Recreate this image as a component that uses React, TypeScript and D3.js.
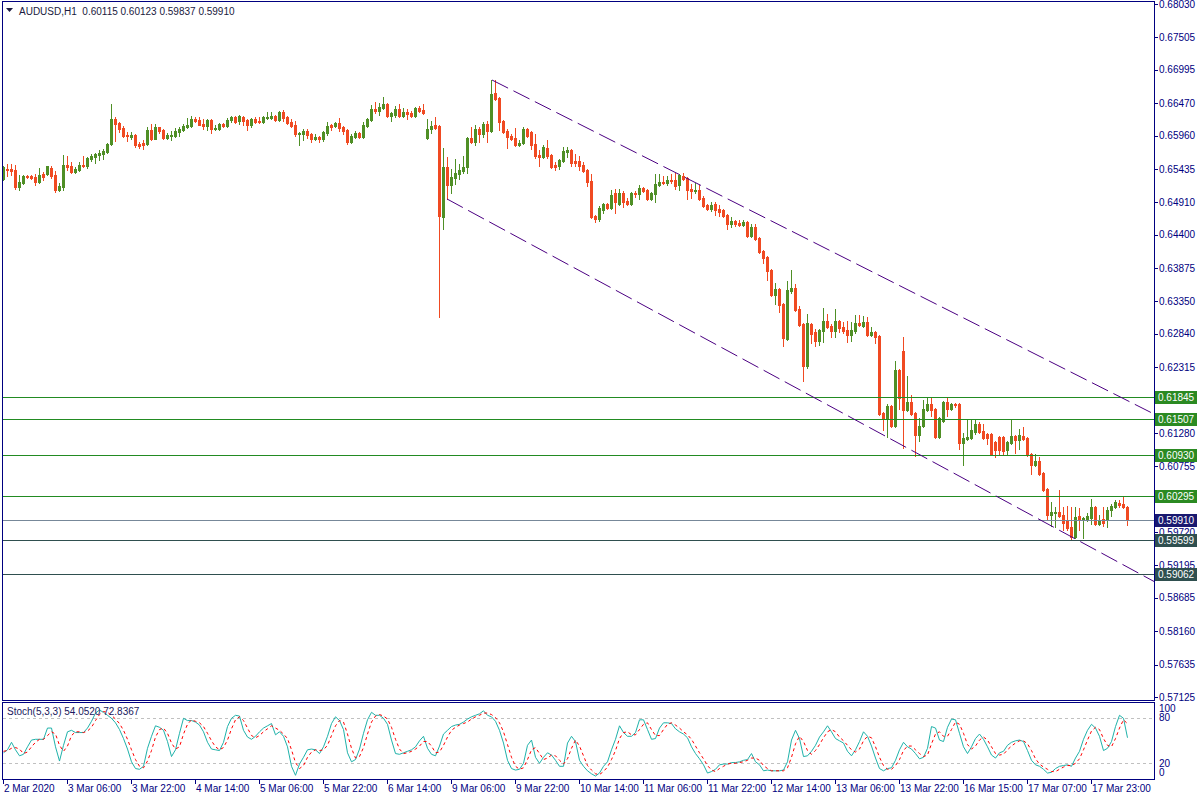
import React from "react";
import * as d3 from "d3";

const symbolTitle = "AUDUSD,H1";
const headerValues = ["0.60115", "0.60123", "0.59837", "0.59910"];
const stochTitle = "Stoch(5,3,3) 54.0520 72.8367";

const opens = [
  0.6528, 0.6543, 0.6543, 0.6542, 0.6515, 0.6521, 0.6532, 0.6532, 0.6531, 0.6523,
  0.6536, 0.6536, 0.6545, 0.6534, 0.6510, 0.6515, 0.6550, 0.6548, 0.6539, 0.6542,
  0.6550, 0.6548, 0.6559, 0.6562, 0.6565, 0.6567, 0.6570, 0.6583, 0.6622, 0.6616,
  0.6608, 0.6597, 0.6594, 0.6597, 0.6583, 0.6584, 0.6583, 0.6605, 0.6591, 0.6609,
  0.6605, 0.6592, 0.6595, 0.6595, 0.6602, 0.6605, 0.6609, 0.6611, 0.6622, 0.6620,
  0.6614, 0.6611, 0.6620, 0.6606, 0.6606, 0.6614, 0.6611, 0.6620, 0.6625, 0.6619,
  0.6625, 0.6620, 0.6613, 0.6622, 0.6619, 0.6617, 0.6624, 0.6624, 0.6627, 0.6620,
  0.6633, 0.6625, 0.6617, 0.6613, 0.6598, 0.6598, 0.6603, 0.6598, 0.6591, 0.6594,
  0.6591, 0.6600, 0.6613, 0.6611, 0.6616, 0.6609, 0.6605, 0.6586, 0.6594, 0.6600,
  0.6594, 0.6611, 0.6620, 0.6638, 0.6635, 0.6639, 0.6646, 0.6627, 0.6628, 0.6638,
  0.6627, 0.6633, 0.6631, 0.6627, 0.6639, 0.6636, 0.6592, 0.6606, 0.6613, 0.6611,
  0.6468, 0.6547, 0.6518, 0.6529, 0.6536, 0.6540, 0.6547, 0.6592, 0.6586, 0.6606,
  0.6598, 0.6614, 0.6603, 0.6663, 0.6655, 0.6619, 0.6603, 0.6595, 0.6592, 0.6581,
  0.6584, 0.6606, 0.6602, 0.6583, 0.6565, 0.6562, 0.6576, 0.6565, 0.6550, 0.6548,
  0.6556, 0.6570, 0.6573, 0.6556, 0.6556, 0.6550, 0.6542, 0.6524, 0.6469, 0.6465,
  0.6479, 0.6488, 0.6482, 0.6506, 0.6488, 0.6506, 0.6493, 0.6488, 0.6506, 0.6504,
  0.6513, 0.6510, 0.6496, 0.6504, 0.6518, 0.6523, 0.6521, 0.6526, 0.6526, 0.6518,
  0.6532, 0.6529, 0.6512, 0.6509, 0.6510, 0.6498, 0.6487, 0.6480, 0.6488, 0.6480,
  0.6479, 0.6471, 0.6457, 0.6462, 0.6458, 0.6455, 0.6460, 0.6438, 0.6452, 0.6435,
  0.6414, 0.6405, 0.6384, 0.6345, 0.6355, 0.6331, 0.6276, 0.6351, 0.6356, 0.6323,
  0.6299, 0.6233, 0.6299, 0.6287, 0.6273, 0.6288, 0.6304, 0.6296, 0.6288, 0.6304,
  0.6295, 0.6290, 0.6282, 0.6288, 0.6301, 0.6296, 0.6303, 0.6282, 0.6287, 0.6281,
  0.6159, 0.6150, 0.6170, 0.6139, 0.6227, 0.6257, 0.6164, 0.6177, 0.6159, 0.6125,
  0.6139, 0.6164, 0.6174, 0.6166, 0.6122, 0.6147, 0.6177, 0.6166, 0.6174, 0.6174,
  0.6112, 0.6118, 0.6120, 0.6129, 0.6142, 0.6131, 0.6126, 0.6126, 0.6114, 0.6122,
  0.6122, 0.6101, 0.6112, 0.6123, 0.6117, 0.6123, 0.6120, 0.6095, 0.6078, 0.6084,
  0.6065, 0.6040, 0.5999, 0.6002, 0.6004, 0.5999, 0.5991, 0.5980, 0.5964, 0.5997,
  0.5993, 0.5991, 0.5994, 0.6011, 0.5985, 0.5993, 0.5993, 0.6007, 0.6011, 0.6018,
  0.6016, 0.60115,
];

const highs = [
  0.6548, 0.6551, 0.6551, 0.6550, 0.6534, 0.6534, 0.6534, 0.6534, 0.6536, 0.6545,
  0.6539, 0.6548, 0.6548, 0.6540, 0.6521, 0.6565, 0.6564, 0.6554, 0.6547, 0.6554,
  0.6564, 0.6562, 0.6567, 0.6569, 0.6573, 0.6575, 0.6584, 0.6646, 0.6625, 0.6617,
  0.6611, 0.6602, 0.6602, 0.6598, 0.6586, 0.6589, 0.6609, 0.6614, 0.6614, 0.6610,
  0.6606, 0.6600, 0.6603, 0.6608, 0.6609, 0.6614, 0.6624, 0.6627, 0.6625, 0.6625,
  0.6622, 0.6622, 0.6622, 0.6613, 0.6616, 0.6616, 0.6624, 0.6627, 0.6627, 0.6628,
  0.6627, 0.6622, 0.6624, 0.6625, 0.6625, 0.6627, 0.6633, 0.6633, 0.6628, 0.6635,
  0.6636, 0.6627, 0.6622, 0.6619, 0.6602, 0.6606, 0.6606, 0.6600, 0.6598, 0.6595,
  0.6603, 0.6617, 0.6614, 0.6617, 0.6624, 0.6611, 0.6606, 0.6598, 0.6603, 0.6602,
  0.6617, 0.6624, 0.6644, 0.6649, 0.6647, 0.6657, 0.6647, 0.6633, 0.6643, 0.6646,
  0.6639, 0.6638, 0.6635, 0.6641, 0.6643, 0.6646, 0.6622, 0.6619, 0.6625, 0.6613,
  0.6576, 0.6562, 0.6543, 0.6559, 0.6551, 0.6564, 0.6594, 0.6609, 0.6613, 0.6609,
  0.6617, 0.6619, 0.6683, 0.6683, 0.6657, 0.6620, 0.6606, 0.6598, 0.6608, 0.6589,
  0.6609, 0.6608, 0.6603, 0.6598, 0.6573, 0.6581, 0.6589, 0.6567, 0.6554, 0.6559,
  0.6578, 0.6578, 0.6575, 0.6567, 0.6564, 0.6554, 0.6543, 0.6536, 0.6471, 0.6485,
  0.6490, 0.6490, 0.6510, 0.6512, 0.6512, 0.6509, 0.6498, 0.6507, 0.6509, 0.6518,
  0.6515, 0.6512, 0.6507, 0.6536, 0.6536, 0.6532, 0.6532, 0.6536, 0.6537, 0.6536,
  0.6537, 0.6531, 0.6520, 0.6521, 0.6518, 0.6501, 0.6488, 0.6491, 0.6491, 0.6487,
  0.6480, 0.6473, 0.6468, 0.6463, 0.6463, 0.6463, 0.6462, 0.6457, 0.6457, 0.6436,
  0.6416, 0.6406, 0.6386, 0.6364, 0.6356, 0.6333, 0.6367, 0.6384, 0.6362, 0.6328,
  0.6301, 0.6315, 0.6301, 0.6292, 0.6292, 0.6325, 0.6315, 0.6299, 0.6323, 0.6306,
  0.6303, 0.6304, 0.6303, 0.6314, 0.6314, 0.6312, 0.6310, 0.6295, 0.6288, 0.6282,
  0.6161, 0.6174, 0.6172, 0.6241, 0.6229, 0.6279, 0.6218, 0.6188, 0.6161, 0.6151,
  0.6180, 0.6183, 0.6183, 0.6167, 0.6153, 0.6178, 0.6183, 0.6175, 0.6175, 0.6175,
  0.6128, 0.6148, 0.6150, 0.6150, 0.6145, 0.6142, 0.6128, 0.6128, 0.6115, 0.6123,
  0.6123, 0.6115, 0.6148, 0.6125, 0.6134, 0.6137, 0.6122, 0.6096, 0.6095, 0.6090,
  0.6067, 0.6041, 0.6019, 0.6011, 0.6038, 0.6011, 0.6013, 0.6011, 0.6011, 0.6010,
  0.5996, 0.6002, 0.6024, 0.6013, 0.5999, 0.6011, 0.6011, 0.6016, 0.6022, 0.6022,
  0.6029, 0.60123,
];

const lows = [
  0.6526, 0.6532, 0.6534, 0.6512, 0.6510, 0.6520, 0.6529, 0.6528, 0.6518, 0.6521,
  0.6526, 0.6534, 0.6529, 0.6507, 0.6509, 0.6510, 0.6542, 0.6537, 0.6537, 0.6540,
  0.6547, 0.6545, 0.6556, 0.6553, 0.6558, 0.6559, 0.6569, 0.6581, 0.6587, 0.6602,
  0.6594, 0.6587, 0.6591, 0.6578, 0.6576, 0.6575, 0.6581, 0.6589, 0.6590, 0.6600,
  0.6591, 0.6591, 0.6589, 0.6594, 0.6595, 0.6603, 0.6608, 0.6609, 0.6617, 0.6612,
  0.6606, 0.6605, 0.6600, 0.6605, 0.6605, 0.6609, 0.6610, 0.6617, 0.6616, 0.6614,
  0.6613, 0.6605, 0.6609, 0.6616, 0.6616, 0.6616, 0.6622, 0.6622, 0.6619, 0.6619,
  0.6619, 0.6614, 0.6609, 0.6595, 0.6581, 0.6589, 0.6592, 0.6586, 0.6589, 0.6586,
  0.6587, 0.6597, 0.6605, 0.6609, 0.6603, 0.6598, 0.6583, 0.6584, 0.6592, 0.6592,
  0.6592, 0.6609, 0.6619, 0.6631, 0.6628, 0.6638, 0.6625, 0.6619, 0.6625, 0.6625,
  0.6625, 0.6622, 0.6625, 0.6625, 0.6633, 0.6630, 0.6591, 0.6600, 0.6606, 0.6310,
  0.6449, 0.6496, 0.6506, 0.6520, 0.6528, 0.6537, 0.6537, 0.6584, 0.6581, 0.6586,
  0.6594, 0.6586, 0.6602, 0.6652, 0.6605, 0.6600, 0.6576, 0.6589, 0.6580, 0.6580,
  0.6583, 0.6594, 0.6575, 0.6561, 0.6548, 0.6561, 0.6561, 0.6545, 0.6542, 0.6543,
  0.6554, 0.6562, 0.6548, 0.6548, 0.6542, 0.6539, 0.6517, 0.6466, 0.6460, 0.6462,
  0.6474, 0.6480, 0.6480, 0.6474, 0.6487, 0.6484, 0.6487, 0.6487, 0.6499, 0.6496,
  0.6507, 0.6495, 0.6495, 0.6491, 0.6517, 0.6520, 0.6518, 0.6521, 0.6512, 0.6510,
  0.6526, 0.6496, 0.6498, 0.6506, 0.6495, 0.6484, 0.6479, 0.6477, 0.6471, 0.6469,
  0.6468, 0.6449, 0.6452, 0.6454, 0.6454, 0.6454, 0.6436, 0.6436, 0.6432, 0.6411,
  0.6395, 0.6369, 0.6343, 0.6331, 0.6318, 0.6265, 0.6274, 0.6348, 0.6320, 0.6296,
  0.6210, 0.6230, 0.6270, 0.6265, 0.6266, 0.6271, 0.6293, 0.6279, 0.6279, 0.6287,
  0.6285, 0.6271, 0.6273, 0.6285, 0.6296, 0.6295, 0.6281, 0.6281, 0.6270, 0.6156,
  0.6133, 0.6122, 0.6137, 0.6137, 0.6166, 0.6104, 0.6162, 0.6156, 0.6092, 0.6115,
  0.6137, 0.6162, 0.6155, 0.6120, 0.6120, 0.6145, 0.6155, 0.6164, 0.6169, 0.6103,
  0.6078, 0.6117, 0.6118, 0.6126, 0.6128, 0.6118, 0.6110, 0.6093, 0.6090, 0.6095,
  0.6095, 0.6093, 0.6110, 0.6096, 0.6103, 0.6117, 0.6092, 0.6064, 0.6076, 0.6062,
  0.6037, 0.5991, 0.5982, 0.5980, 0.5996, 0.5975, 0.5975, 0.5960, 0.5963, 0.5975,
  0.5963, 0.5989, 0.5985, 0.5983, 0.5983, 0.5982, 0.5980, 0.5997, 0.6010, 0.6011,
  0.6010, 0.59837,
];

const closes = [
  0.6546, 0.6542, 0.6540, 0.6515, 0.6523, 0.6532, 0.6531, 0.6529, 0.6523, 0.6534,
  0.6531, 0.6548, 0.6532, 0.6510, 0.6517, 0.6550, 0.6547, 0.6539, 0.6543, 0.6550,
  0.6548, 0.6561, 0.6564, 0.6567, 0.6569, 0.6572, 0.6583, 0.6622, 0.6614, 0.6606,
  0.6595, 0.6595, 0.6597, 0.6581, 0.6580, 0.6581, 0.6605, 0.6591, 0.6609, 0.6603,
  0.6592, 0.6597, 0.6597, 0.6603, 0.6606, 0.6611, 0.6613, 0.6622, 0.6619, 0.6613,
  0.6611, 0.6620, 0.6606, 0.6608, 0.6614, 0.6611, 0.6620, 0.6625, 0.6617, 0.6627,
  0.6619, 0.6613, 0.6622, 0.6617, 0.6617, 0.6625, 0.6625, 0.6627, 0.6620, 0.6633,
  0.6624, 0.6616, 0.6611, 0.6598, 0.6600, 0.6603, 0.6597, 0.6591, 0.6594, 0.6591,
  0.6602, 0.6611, 0.6609, 0.6616, 0.6608, 0.6603, 0.6586, 0.6595, 0.6600, 0.6594,
  0.6613, 0.6622, 0.6638, 0.6635, 0.6641, 0.6646, 0.6627, 0.6631, 0.6638, 0.6627,
  0.6633, 0.6630, 0.6627, 0.6639, 0.6635, 0.6631, 0.6606, 0.6611, 0.6608, 0.6469,
  0.6547, 0.6518, 0.6531, 0.6537, 0.6542, 0.6547, 0.6592, 0.6586, 0.6606, 0.6598,
  0.6614, 0.6603, 0.6661, 0.6654, 0.6617, 0.6602, 0.6594, 0.6591, 0.6581, 0.6584,
  0.6606, 0.6595, 0.6581, 0.6564, 0.6562, 0.6578, 0.6564, 0.6547, 0.6547, 0.6558,
  0.6572, 0.6573, 0.6553, 0.6553, 0.6548, 0.6540, 0.6523, 0.6468, 0.6465, 0.6482,
  0.6488, 0.6482, 0.6502, 0.6491, 0.6506, 0.6491, 0.6488, 0.6506, 0.6504, 0.6513,
  0.6509, 0.6496, 0.6506, 0.6520, 0.6523, 0.6521, 0.6526, 0.6524, 0.6517, 0.6534,
  0.6528, 0.6510, 0.6509, 0.6510, 0.6496, 0.6485, 0.6480, 0.6487, 0.6479, 0.6476,
  0.6469, 0.6457, 0.6462, 0.6457, 0.6455, 0.6460, 0.6438, 0.6452, 0.6433, 0.6413,
  0.6403, 0.6383, 0.6345, 0.6355, 0.6330, 0.6277, 0.6353, 0.6356, 0.6321, 0.6298,
  0.6233, 0.6301, 0.6284, 0.6273, 0.6290, 0.6304, 0.6295, 0.6288, 0.6304, 0.6293,
  0.6288, 0.6282, 0.6290, 0.6301, 0.6298, 0.6303, 0.6282, 0.6287, 0.6279, 0.6158,
  0.6150, 0.6170, 0.6139, 0.6227, 0.6183, 0.6164, 0.6177, 0.6158, 0.6125, 0.6139,
  0.6166, 0.6174, 0.6164, 0.6122, 0.6151, 0.6177, 0.6166, 0.6174, 0.6172, 0.6112,
  0.6120, 0.6122, 0.6133, 0.6142, 0.6129, 0.6120, 0.6120, 0.6095, 0.6101, 0.6101,
  0.6100, 0.6114, 0.6123, 0.6117, 0.6125, 0.6118, 0.6093, 0.6078, 0.6084, 0.6064,
  0.6038, 0.5999, 0.6004, 0.6004, 0.5997, 0.5986, 0.5978, 0.5964, 0.5996, 0.5991,
  0.5994, 0.5997, 0.6011, 0.5985, 0.5991, 0.5986, 0.6007, 0.6013, 0.6019, 0.6015,
  0.6011, 0.59910,
];

const stochK = [
  34, 38, 48, 38, 30, 32, 42, 51, 52, 52,
  52, 67, 67, 42, 23, 44, 62, 64, 61, 61,
  61, 67, 76, 87, 91, 88, 84, 80, 74, 65,
  53, 39, 22, 13, 12, 16, 40, 56, 70, 68,
  64, 49, 29, 38, 60, 80, 77, 77, 75, 71,
  62, 48, 39, 38, 37, 48, 69, 80, 84, 83,
  64, 55, 52, 56, 62, 67, 70, 73, 58, 62,
  56, 42, 16, 4, 19, 28, 38, 39, 38, 33,
  42, 56, 73, 82, 77, 65, 34, 22, 25, 39,
  60, 78, 88, 84, 84, 80, 72, 51, 33, 32,
  34, 36, 38, 42, 50, 56, 40, 32, 30, 43,
  59, 64, 69, 71, 72, 75, 79, 82, 84, 86,
  90, 84, 82, 76, 64, 47, 24, 13, 11, 12,
  20, 44, 51, 28, 20, 28, 34, 31, 24, 16,
  16, 47, 56, 49, 24, 16, 10, 6, 3, 7,
  16, 22, 38, 52, 70, 61, 56, 56, 61, 78,
  78, 65, 52, 53, 67, 74, 74, 73, 66, 62,
  59, 54, 42, 33, 26, 18, 7, 9, 12, 18,
  19, 19, 21, 21, 22, 24, 25, 33, 22, 18,
  10, 11, 10, 10, 10, 11, 22, 51, 64, 53,
  29, 30, 36, 44, 55, 62, 70, 62, 53, 50,
  47, 36, 30, 38, 49, 62, 56, 43, 27, 13,
  10, 13, 14, 24, 38, 48, 42, 39, 33, 26,
  28, 40, 69, 67, 51, 49, 68, 79, 78, 60,
  42, 33, 42, 53, 59, 52, 42, 31, 27, 34,
  36, 44, 48, 50, 51, 49, 37, 24, 18, 16,
  12, 7, 8, 13, 16, 17, 18, 16, 27, 36,
  52, 64, 72, 67, 56, 37, 40, 49, 69, 84,
  80, 54.052,
];

const stochD = [
  36, 37, 40, 41, 39, 33, 35, 42, 48, 52,
  52, 57, 62, 59, 44, 36, 43, 57, 62, 62,
  61, 63, 68, 77, 85, 89, 88, 84, 79, 73,
  64, 52, 38, 25, 16, 14, 23, 37, 55, 65,
  67, 60, 47, 39, 42, 59, 72, 78, 76, 74,
  69, 60, 50, 42, 38, 41, 51, 66, 78, 82,
  77, 67, 57, 54, 57, 62, 66, 70, 67, 64,
  59, 53, 38, 21, 13, 17, 28, 35, 38, 37,
  38, 44, 57, 70, 77, 75, 59, 40, 27, 29,
  41, 59, 75, 83, 85, 83, 79, 68, 52, 39,
  33, 34, 36, 39, 43, 49, 49, 43, 34, 35,
  44, 55, 64, 68, 71, 73, 75, 79, 82, 84,
  87, 87, 85, 81, 74, 62, 45, 28, 16, 12,
  14, 25, 38, 41, 33, 25, 27, 31, 30, 24,
  19, 26, 40, 51, 43, 30, 17, 11, 6, 5,
  9, 15, 25, 37, 53, 61, 62, 58, 58, 65,
  72, 74, 65, 57, 57, 65, 72, 74, 71, 67,
  62, 58, 52, 43, 34, 26, 17, 11, 9, 13,
  16, 19, 20, 20, 21, 22, 24, 27, 27, 24,
  17, 13, 10, 10, 10, 10, 14, 28, 46, 56,
  49, 37, 32, 37, 45, 54, 62, 65, 62, 55,
  50, 44, 38, 35, 39, 50, 56, 54, 42, 28,
  17, 12, 12, 17, 25, 37, 43, 43, 38, 33,
  29, 31, 46, 59, 62, 56, 56, 65, 75, 72,
  60, 45, 39, 43, 51, 55, 51, 42, 33, 31,
  32, 38, 43, 47, 50, 50, 46, 37, 26, 19,
  15, 12, 9, 9, 12, 15, 17, 17, 20, 26,
  38, 51, 63, 68, 65, 53, 44, 42, 53, 67,
  78, 72.8367,
];

const priceTicks = [
  0.6803, 0.67505, 0.66995, 0.6647, 0.6596, 0.65435, 0.6491, 0.644, 0.63875, 0.6335,
  0.6284, 0.62315, 0.6179, 0.6128, 0.60755, 0.6023, 0.5972, 0.59195, 0.58685, 0.5816,
  0.57635, 0.57125,
];

const timeLabels = [
  "2 Mar 2020", "3 Mar 06:00", "3 Mar 22:00", "4 Mar 14:00", "5 Mar 06:00", "5 Mar 22:00",
  "6 Mar 14:00", "9 Mar 06:00", "9 Mar 22:00", "10 Mar 14:00", "11 Mar 06:00", "11 Mar 22:00",
  "12 Mar 14:00", "13 Mar 06:00", "13 Mar 22:00", "16 Mar 15:00", "17 Mar 07:00", "17 Mar 23:00",
];
const timeLabelBars = [0, 16, 32, 48, 64, 80, 96, 112, 128, 144, 160, 176, 192, 208, 224, 240, 256, 272];

const levelPrices = [0.61845, 0.61507, 0.6093, 0.60295, 0.5991, 0.59599, 0.59062];
const levelKinds = ["green", "green", "green", "green", "bid", "slate", "slate"];

const upperChannel = [
  [122.25, 0.66834],
  [287.75, 0.61578],
];
const lowerChannel = [
  [111, 0.64962],
  [287.75, 0.58943],
];

const stochLevels = [80, 20];
const stochScaleLabels = ["100", "80", "20", "0"];

const NAVY = "#000080";
const BULL = "#4f8f26";
const BEAR = "#f04a22";
const FONT = "'Liberation Sans', Arial, sans-serif";

const lineColor: Record<string, string> = { green: "#228b22", bid: "#778899", slate: "#2f4f4f" };
const labelBg: Record<string, string> = { green: "#2b8a22", bid: "#191970", slate: "#2f4f4f" };

export default function App() {
  const W = 1200;
  const H = 800;
  const left = 2.5;
  const right = 1154.5;
  const x = d3.scaleLinear().domain([0, 281]).range([3, 1127]);
  const y = d3.scaleLinear().domain([0.57125, 0.6803]).range([697, 4]);
  const ys = d3.scaleLinear().domain([0, 100]).range([778.3, 703.3]);
  const bars = d3.range(opens.length);

  const kPath = d3
    .line<number>()
    .x((i) => x(i) + 0.5)
    .y((i) => ys(stochK[i]))(bars) as string;
  const dPath = d3
    .line<number>()
    .x((i) => x(i) + 0.5)
    .y((i) => ys(stochD[i]))(bars) as string;

  const chan = d3
    .line<number[]>()
    .x((d) => x(d[0]))
    .y((d) => y(d[1]));

  const stochLabelY = [712, 720.5, 766.5, 776];

  return (
    <svg
      width={W}
      height={H}
      style={{ position: "absolute", left: 0, top: 0, display: "block", background: "#fff" }}
      fontFamily={FONT}
    >
      <defs>
        <clipPath id="mainClip">
          <rect x={3} y={2} width={1151} height={698} />
        </clipPath>
        <clipPath id="stochClip">
          <rect x={3} y={703} width={1151} height={76} />
        </clipPath>
      </defs>
      <rect x={0} y={0} width={W} height={H} fill="#ffffff" />

      {/* candles */}
      <g clipPath="url(#mainClip)" shapeRendering="crispEdges">
        {bars.map((i) => {
          const o = opens[i];
          const c = closes[i];
          const col = c > o ? BULL : BEAR;
          const cx = Math.round(x(i));
          const yt = Math.round(y(Math.max(o, c)));
          const yb = Math.round(y(Math.min(o, c)));
          const yh = Math.round(y(highs[i]));
          const yl = Math.round(y(lows[i]));
          return (
            <g key={i}>
              <rect x={cx} y={yh} width={1} height={Math.max(1, yl - yh + 1)} fill={col} />
              <rect x={cx - 1} y={yt} width={3} height={Math.max(1, yb - yt + 1)} fill={col} />
            </g>
          );
        })}
      </g>

      {/* horizontal levels */}
      <g shapeRendering="crispEdges">
        {levelPrices.map((p, k) => (
          <line
            key={k}
            x1={left}
            x2={right}
            y1={Math.round(y(p)) + 0.5}
            y2={Math.round(y(p)) + 0.5}
            stroke={lineColor[levelKinds[k]]}
            strokeWidth={1}
          />
        ))}
      </g>

      {/* channel */}
      <g clipPath="url(#mainClip)">
        <path d={chan(upperChannel) as string} stroke="#4b0082" strokeWidth={1} fill="none" strokeDasharray="18 6" />
        <path d={chan(lowerChannel) as string} stroke="#4b0082" strokeWidth={1} fill="none" strokeDasharray="18 6" />
      </g>

      {/* stochastic */}
      <g shapeRendering="crispEdges">
        {stochLevels.map((v) => (
          <line
            key={v}
            x1={3}
            x2={1154}
            y1={Math.round(ys(v)) + 0.5}
            y2={Math.round(ys(v)) + 0.5}
            stroke="#c0c0c0"
            strokeDasharray="3 3"
          />
        ))}
      </g>
      <g clipPath="url(#stochClip)">
        <path d={kPath} stroke="#20b2aa" strokeWidth={1} fill="none" />
        <path d={dPath} stroke="#ff0000" strokeWidth={1} fill="none" strokeDasharray="3 3" />
      </g>

      {/* frames */}
      <g fill="none" stroke={NAVY} strokeWidth={1} shapeRendering="crispEdges">
        <rect x={left} y={1.5} width={right - left} height={699} />
        <rect x={left} y={702.5} width={right - left} height={77} />
      </g>

      {/* price axis */}
      <g fontSize={10} fill={NAVY}>
        {priceTicks.map((p, k) => {
          const yy = y(p);
          return (
            <g key={k}>
              <line x1={1155} x2={1158} y1={Math.round(yy) + 0.5} y2={Math.round(yy) + 0.5} stroke={NAVY} shapeRendering="crispEdges" />
              <text x={1159} y={yy + 3.6}>
                {p.toFixed(5)}
              </text>
            </g>
          );
        })}
      </g>

      {/* level labels */}
      {levelPrices.map((p, k) => {
        const yy = Math.round(y(p)) + 0.5;
        return (
          <g key={k}>
            <rect x={1155} y={yy - 6.5} width={42} height={13} fill={labelBg[levelKinds[k]]} shapeRendering="crispEdges" />
            <text x={1158} y={yy + 3.6} fontSize={10} fill="#ffffff">
              {p.toFixed(5)}
            </text>
          </g>
        );
      })}

      {/* stoch scale */}
      <g fontSize={10} fill={NAVY}>
        {stochScaleLabels.map((s, k) => (
          <text key={s} x={1159} y={stochLabelY[k]}>
            {s}
          </text>
        ))}
      </g>

      {/* time axis */}
      <g fontSize={10} fill={NAVY}>
        {timeLabelBars.map((b, k) => {
          const tx = Math.round(x(b));
          return (
            <g key={k}>
              <line x1={tx + 0.5} x2={tx + 0.5} y1={780} y2={784} stroke={NAVY} shapeRendering="crispEdges" />
              <text x={tx + 1} y={792}>
                {timeLabels[k]}
              </text>
            </g>
          );
        })}
      </g>

      {/* headers */}
      <path d="M6,8 L13,8 L9.5,12 Z" fill="#1a1a40" />
      <text x={19} y={15} fontSize={10} fill="#1a1a40" style={{ whiteSpace: "pre" }}>
        {symbolTitle + "  " + headerValues.join(" ")}
      </text>
      <text x={7} y={715} fontSize={10} fill="#1a1a60">
        {stochTitle}
      </text>
    </svg>
  );
}
